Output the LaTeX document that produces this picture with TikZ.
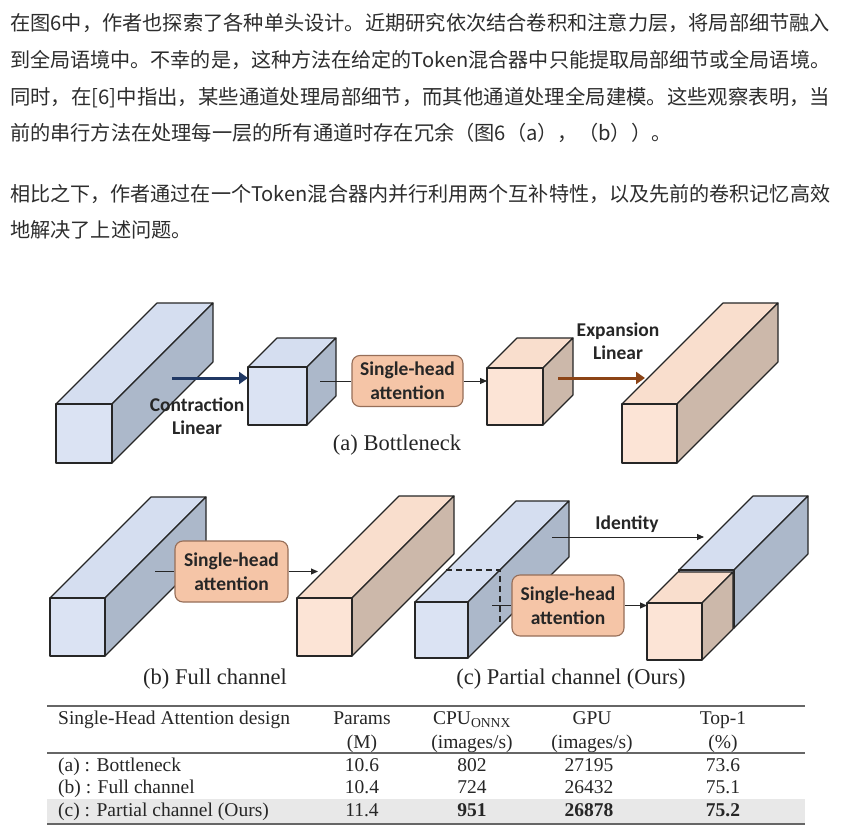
\documentclass[tikz,border=0pt]{standalone}
\usepackage{fontspec}
\usepackage{graphicx}
\setmainfont{Liberation Serif}
\newfontfamily\cnfont{Noto Sans CJK SC}
\newfontfamily\lblfont{Carlito}
\usepackage{tikz}
\usetikzlibrary{arrows.meta,calc,positioning}
\definecolor{shabluefront}{RGB}{219,227,243}
\definecolor{shabluetop}{RGB}{213,222,240}
\definecolor{shablueside}{RGB}{172,184,202}
\definecolor{shapeachfront}{RGB}{252,228,214}
\definecolor{shapeachtop}{RGB}{249,222,205}
\definecolor{shapeachside}{RGB}{204,184,170}
\definecolor{shaattn}{RGB}{245,197,167}
\definecolor{shaattnline}{RGB}{150,110,88}
\definecolor{shanavy}{RGB}{32,56,100}
\definecolor{shabrown}{RGB}{140,68,22}
\definecolor{shatext}{RGB}{45,45,45}
\definecolor{sharow}{RGB}{232,232,232}

% front top-left x, y, width, height, depth, colour
\newcommand{\shacuboid}[6]{%
  \filldraw[cuboid, fill=#6top] (#1,#2) -- ++(#5,-#5) -- ++(#3,0) -- ++(-#5,#5) -- cycle;
  \filldraw[cuboid, fill=#6side] ({#1+#3},#2) -- ++(#5,-#5) -- ++(0,#4) -- ++(-#5,#5) -- cycle;
  \filldraw[cuboid, fill=#6front] (#1,#2) rectangle ++(#3,#4);
}
% a full justified line of the paragraph
\newcommand{\fullline}[1]{\resizebox{820pt}{\height}{#1}}

\begin{document}
\begin{tikzpicture}[
      x=1pt, y=-1pt,
      cuboid/.style={draw=black!85, line width=1.1pt, line join=round},
      attn/.style={draw=shaattnline, fill=shaattn, rounded corners=8pt, line width=1.1pt, inner sep=0pt, align=center, text=black!85, font=\lblfont\bfseries\fontsize{19.5}{24}\selectfont},
      lbl/.style={inner sep=0pt, align=center, text=black!85, font=\lblfont\bfseries\fontsize{19.5}{23}\selectfont},
      figcap/.style={inner sep=0pt, anchor=base, text=black!85, font=\fontsize{22.5}{26}\selectfont},
      cn/.style={inner sep=0pt, anchor=base west, text=shatext, font=\cnfont\fontsize{20.2}{25}\selectfont},
      tab/.style={inner sep=0pt, anchor=base, text=black!85, font=\fontsize{19.5}{22}\selectfont},
      link/.style={line width=0.9pt, draw=black!85},
      tip/.style={link, -{Triangle[length=7pt, width=6pt]}},
      fat/.style={line width=3pt, -{Triangle[length=9pt, width=12pt]}},
      tabrule/.style={line width=1.3pt, draw=black!60}
    ]
      \useasboundingbox[fill=white] (0,0) rectangle (849,840);

      % text above the figure
      \node[cn] (p1) at (10,31) {\fullline{在图6中，作者也探索了各种单头设计。近期研究依次结合卷积和注意力层，将局部细节融入}};
      \node[cn] (p2) at (10,68) {\fullline{到全局语境中。不幸的是，这种方法在给定的Token混合器中只能提取局部细节或全局语境。}};
      \node[cn] (p3) at (10,105) {\fullline{同时，在[6]中指出，某些通道处理局部细节，而其他通道处理全局建模。这些观察表明，当}};
      \node[cn] (p4) at (10,141) {前的串行方法在处理每一层的所有通道时存在冗余（图6（a），（b））。};
      \node[cn] (p5) at (10,201) {\fullline{相比之下，作者通过在一个Token混合器内并行利用两个互补特性，以及先前的卷积记忆高效}};
      \node[cn] (p6) at (10,237) {地解决了上述问题。};

      % (a) bottleneck
      \shacuboid{56}{404}{56}{59}{101}{shablue}
      \shacuboid{248}{367}{59}{58}{29}{shablue}
      \shacuboid{487}{368}{56}{57}{30}{shapeach}
      \shacuboid{622}{404}{55}{59}{101}{shapeach}

      \coordinate (ctrS) at (172,378);
      \coordinate (ctrE) at (248,378);
      \coordinate (a2in) at (320,381);
      \coordinate (a3w) at (487,381);
      \coordinate (expS) at (558,378);
      \coordinate (expE) at (645,378);

      \node[attn, minimum width=111pt, minimum height=51pt] (attA) at (407.5,381) {Single-head\\attention};
      \draw[fat, shanavy] (ctrS) -- (ctrE);
      \draw[fat, shabrown] (expS) -- (expE);
      \draw[link] (a2in) -- (attA.west);
      \draw[tip] (attA.east) -- (a3w);
      \node[lbl] (ctrL) at (197,416) {Contraction\\Linear};
      \node[lbl] (expL) at (618,341) {Expansion\\Linear};
      \node[figcap] (capA) at (397,450.5) {(a) Bottleneck};

      % (b) full channel
      \shacuboid{50}{598}{55}{58}{101}{shablue}
      \shacuboid{297}{598}{55}{58}{102}{shapeach}

      \coordinate (b1in) at (155,571.5);
      \coordinate (b2w) at (318,571.5);
      \node[attn, minimum width=113pt, minimum height=61pt] (attB) at (231.5,571.5) {Single-head\\attention};
      \draw[link] (b1in) -- (attB.west);
      \draw[tip] (attB.east) -- (b2w);
      \node[figcap] (capB) at (215,684.5) {(b) Full channel};

      % (c) partial channel
      \shacuboid{415}{602}{53}{56}{101}{shablue}
      \draw[cuboid, line width=1.4pt, dash pattern=on 6pt off 4pt] (446,570) -- (500,570) -- (500,626);
      \shacuboid{679}{570}{55}{58}{74}{shablue}
      \shacuboid{647}{603}{55}{57}{31}{shapeach}

      \coordinate (idS) at (552,537);
      \coordinate (idE) at (704,537);
      \coordinate (c1in) at (492,605.5);
      \coordinate (c2w) at (647,605.5);
      \node[attn, minimum width=112pt, minimum height=61pt] (attC) at (568,605.5) {Single-head\\attention};
      \draw[link] (c1in) -- (attC.west);
      \draw[tip] (attC.east) -- (c2w);
      \draw[tip] (idS) -- (idE);
      \node[lbl] (idL) at (627,524) {Identity};
      \node[figcap] (capC) at (571,684.5) {(c) Partial channel (Ours)};

      % table
      \fill[sharow] (47,799) rectangle (805,823.5);
      \draw[tabrule] (47,706) -- (805,706);
      \draw[tabrule] (47,753) -- (805,753);
      \draw[tabrule] (47,824) -- (805,824);

      \node[tab, anchor=base west] (h1) at (58,724.5) {Single-Head Attention design};
      \node[tab] (h2) at (362,724.5) {Params};
      \node[tab] (h3) at (472,724.5) {CPU\textsubscript{ONNX}};
      \node[tab] (h4) at (592,724.5) {GPU};
      \node[tab] (h5) at (723,724.5) {Top-1};
      \node[tab] (u2) at (362,748.5) {(M)};
      \node[tab] (u3) at (472,748.5) {(images/s)};
      \node[tab] (u4) at (592,748.5) {(images/s)};
      \node[tab] (u5) at (723,748.5) {(\%)};

      \node[tab, anchor=base west] (ra1) at (58,771.5) {(a) : Bottleneck};
      \node[tab] (ra2) at (362,771.5) {10.6};
      \node[tab] (ra3) at (472,771.5) {802};
      \node[tab] (ra4) at (589,771.5) {27195};
      \node[tab] (ra5) at (723,771.5) {73.6};

      \node[tab, anchor=base west] (rb1) at (58,793.5) {(b) : Full channel};
      \node[tab] (rb2) at (362,793.5) {10.4};
      \node[tab] (rb3) at (472,793.5) {724};
      \node[tab] (rb4) at (589,793.5) {26432};
      \node[tab] (rb5) at (723,793.5) {75.1};

      \node[tab, anchor=base west] (rc1) at (58,816.5) {(c) : Partial channel (Ours)};
      \node[tab] (rc2) at (362,816.5) {11.4};
      \node[tab] (rc3) at (472,816.5) {\bfseries 951};
      \node[tab] (rc4) at (589,816.5) {\bfseries 26878};
      \node[tab] (rc5) at (723,816.5) {\bfseries 75.2};
    \end{tikzpicture}
\end{document}
